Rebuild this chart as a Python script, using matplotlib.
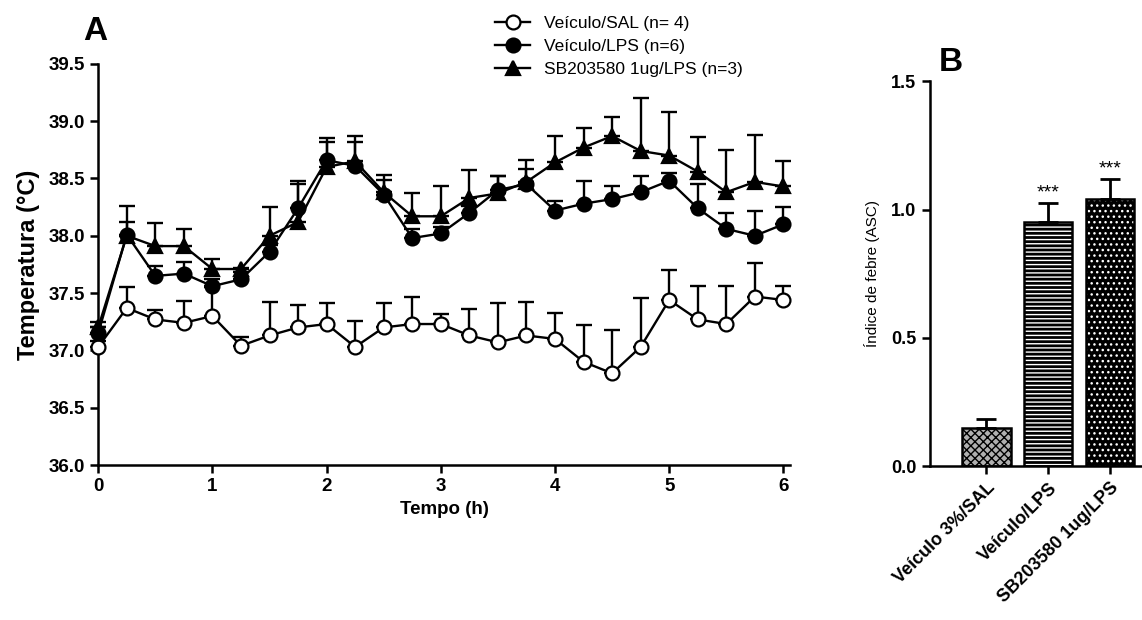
#!/usr/bin/env python3

import matplotlib
matplotlib.use('Agg')
import matplotlib.pyplot as plt
import numpy as np

plt.rcParams['font.family'] = ['Liberation Sans', 'DejaVu Sans']
plt.rcParams['hatch.linewidth'] = 1.0

# ======================================================================
# Data.
# ======================================================================

tempo = [0, 0.25, 0.5, 0.75, 1, 1.25, 1.5, 1.75, 2, 2.25, 2.5, 2.75, 3,
         3.25, 3.5, 3.75, 4, 4.25, 4.5, 4.75, 5, 5.25, 5.5, 5.75, 6]

sal_mean = [37.03, 37.37, 37.27, 37.24, 37.30, 37.04, 37.13, 37.20, 37.23,
            37.03, 37.20, 37.23, 37.23, 37.13, 37.07, 37.13, 37.10, 36.90,
            36.80, 37.03, 37.44, 37.27, 37.23, 37.47, 37.44]
sal_top = [37.08, 37.55, 37.35, 37.43, 37.55, 37.12, 37.42, 37.40, 37.41,
           37.26, 37.41, 37.47, 37.32, 37.36, 37.41, 37.42, 37.33, 37.22,
           37.18, 37.46, 37.70, 37.56, 37.56, 37.76, 37.56]

lps_mean = [37.15, 38.01, 37.65, 37.67, 37.56, 37.62, 37.86, 38.24, 38.66,
            38.61, 38.36, 37.98, 38.02, 38.20, 38.40, 38.45, 38.22, 38.28,
            38.32, 38.38, 38.48, 38.24, 38.06, 38.00, 38.10]
lps_top = [37.20, 38.26, 37.74, 37.77, 37.62, 37.68, 37.92, 38.45, 38.85,
           38.87, 38.49, 38.06, 38.08, 38.26, 38.52, 38.58, 38.30, 38.48,
           38.43, 38.52, 38.55, 38.45, 38.20, 38.22, 38.25]

sb_mean = [37.20, 38.00, 37.91, 37.91, 37.71, 37.71, 38.00, 38.12, 38.60,
           38.65, 38.38, 38.17, 38.17, 38.33, 38.37, 38.47, 38.64, 38.77,
           38.87, 38.74, 38.70, 38.56, 38.38, 38.47, 38.43]
sb_top = [37.25, 38.12, 38.11, 38.06, 37.80, 37.72, 38.25, 38.48, 38.82,
          38.82, 38.53, 38.37, 38.43, 38.57, 38.52, 38.66, 38.87, 38.94,
          39.04, 39.20, 39.08, 38.86, 38.75, 38.88, 38.65]

grupos = ['Veículo 3%/SAL', 'Veículo/LPS', 'SB203580 1ug/LPS']
asc_mean = [0.15, 0.95, 1.04]
asc_err = [0.035, 0.075, 0.08]

# ======================================================================
# Figure.
# ======================================================================

fig = plt.figure(figsize=(11.42, 6.2), dpi=100)
axA = fig.add_axes([0.086, 0.25, 0.606, 0.647])
axB = fig.add_axes([0.814, 0.248, 0.185, 0.621])

series = [
    (sal_mean, sal_top, 'o', 'white', 'Veículo/SAL (n= 4)'),
    (lps_mean, lps_top, 'o', 'black', 'Veículo/LPS (n=6)'),
    (sb_mean, sb_top, '^', 'black', 'SB203580 1ug/LPS (n=3)'),
]
handles = []
for mean, top, mk, fc, lab in series:
    mean = np.array(mean)
    up = np.array(top) - mean
    axA.errorbar(tempo, mean, yerr=[np.zeros_like(up), up], fmt='none',
                 ecolor='black', elinewidth=1.7, capsize=5.5, capthick=1.7,
                 clip_on=False, zorder=2)
    h, = axA.plot(tempo, mean, color='black', lw=1.7, marker=mk,
                  markersize=10, markerfacecolor=fc, markeredgecolor='black',
                  markeredgewidth=1.6, clip_on=False, label=lab, zorder=3)
    handles.append(h)

axA.set_xlim(0, 6.06)
axA.set_ylim(36.0, 39.5)
axA.set_xticks(range(7))
axA.set_yticks(np.arange(36.0, 39.51, 0.5))
axA.set_yticklabels(['%.1f' % v for v in np.arange(36.0, 39.51, 0.5)])
axA.spines['top'].set_visible(False)
axA.spines['right'].set_visible(False)
for s in ('left', 'bottom'):
    axA.spines[s].set_linewidth(1.8)
axA.tick_params(width=1.8, length=6, labelsize=13.5)
for t in axA.get_xticklabels() + axA.get_yticklabels():
    t.set_fontweight('bold')
axA.set_xlabel('Tempo (h)', fontsize=13.5, fontweight='bold')
axA.set_ylabel('Temperatura (°C)', fontsize=17, fontweight='bold',
               labelpad=6)

fig.legend(handles=handles, loc='upper left',
           bbox_to_anchor=(0.42, 1.0), frameon=False, fontsize=12.5,
           handlelength=2.0, labelspacing=0.45)

# ----------------------------------------------------------------------
# Panel B.
# ----------------------------------------------------------------------

xpos = np.arange(len(grupos))
faces = ['#b0b0b0', 'black', 'black']
hatches = ['xxxx', '----', '...']
hcols = ['black', 'white', 'white']
for x, m, e, fc, ht, hc in zip(xpos, asc_mean, asc_err, faces, hatches, hcols):
    axB.bar(x, m, width=0.78, color=fc, edgecolor=hc, hatch=ht, lw=0,
            zorder=2)
    axB.bar(x, m, width=0.78, color='none', edgecolor='black', lw=1.8,
            zorder=3)
    axB.errorbar(x, m, yerr=[[0], [e]], fmt='none', ecolor='black',
                 elinewidth=2, capsize=7, capthick=2, zorder=4)
    if x > 0:
        axB.text(x, m + e + 0.005, '***', ha='center', va='bottom',
                 fontsize=14)

axB.set_xlim(-0.92, 2.5)
axB.set_ylim(0, 1.5)
axB.set_yticks([0.0, 0.5, 1.0, 1.5])
axB.set_yticklabels(['0.0', '0.5', '1.0', '1.5'])
axB.set_xticks(xpos)
axB.set_xticklabels(grupos, rotation=45, ha='right',
                    rotation_mode='anchor')
axB.spines['top'].set_visible(False)
axB.spines['right'].set_visible(False)
for s in ('left', 'bottom'):
    axB.spines[s].set_linewidth(1.8)
axB.tick_params(width=1.8, length=6, labelsize=13)
for t in axB.get_xticklabels() + axB.get_yticklabels():
    t.set_fontweight('bold')
axB.set_ylabel('Índice de febre (ASC)', fontsize=11, labelpad=8)

fig.text(0.073, 0.935, 'A', fontsize=24, fontweight='bold')
fig.text(0.822, 0.885, 'B', fontsize=24, fontweight='bold')

fig.savefig('out.png', dpi=100)
plt.close()
